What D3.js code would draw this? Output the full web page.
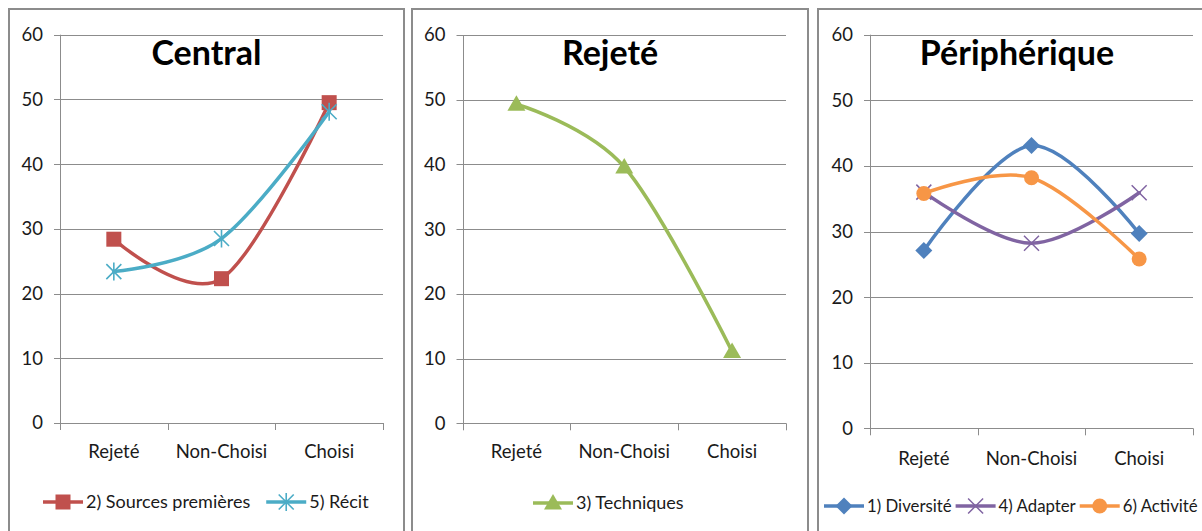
<!DOCTYPE html>
<html><head><meta charset="utf-8">
<script src="https://cdn.jsdelivr.net/npm/d3@7"></script>
<style>
html,body{margin:0;padding:0;background:#fff;overflow:hidden;}
svg{display:block;font-family:Lato,"Open Sans",sans-serif;}
</style></head>
<body><svg id="chart" width="1202" height="531"></svg>
<script>
// ---- data ----
const categories = ["Rejeté", "Non-Choisi", "Choisi"];
const yTicks = [0, 10, 20, 30, 40, 50, 60];
const titles = ["Central", "Rejeté", "Périphérique"];
const sourcesPremieres = [28.4, 22.3, 49.5];
const recit = [23.4, 28.5, 48.1];
const techniques = [49.3, 39.6, 11.1];
const diversite = [27.1, 43.1, 29.7];
const adapter = [36.0, 28.2, 35.9];
const activite = [35.8, 38.2, 25.8];

const seriesNames = {
  sources: "2) Sources premières", recit: "5) Récit", techniques: "3) Techniques",
  diversite: "1) Diversité", adapter: "4) Adapter", activite: "6) Activité"
};

// ---- layout / style ----
const panels = [
  { title: titles[0], bx0: 9, bx1: 404, left: 60, right: 383, top: 34.7, bottom: 423, xl: 452, ly: 502, lx: 43, lgap: 16, lfs: 18, tx: 206.5,
    series: [
      { name: seriesNames.sources, values: sourcesPremieres, color: "#C0504D", marker: "square" },
      { name: seriesNames.recit, values: recit, color: "#4BACC6", marker: "star" }
    ] },
  { title: titles[1], bx0: 412, bx1: 808, left: 462.5, right: 786, top: 35, bottom: 423.3, xl: 452, ly: 503, lx: 533, lgap: 16, lfs: 18, tx: 610,
    series: [
      { name: seriesNames.techniques, values: techniques, color: "#9BBB59", marker: "triangle" }
    ] },
  { title: titles[2], bx0: 818, bx1: 1217, left: 870, right: 1193, top: 34.7, bottom: 428.3, xl: 459, ly: 506, lx: 824, lgap: 4, lfs: 16.8, tx: 1017,
    series: [
      { name: seriesNames.diversite, values: diversite, color: "#4F81BD", marker: "diamond" },
      { name: seriesNames.adapter, values: adapter, color: "#8064A2", marker: "x" },
      { name: seriesNames.activite, values: activite, color: "#F79646", marker: "circle" }
    ] }
];

const gridColor = "#8c8c8c";
const textColor = "#1a1a1a";
const svg = d3.select("#chart");

function drawMarker(g, type, x, y, color) {
  const s = 7.5;
  if (type === "square") {
    g.append("rect").attr("x", x - s).attr("y", y - s).attr("width", 2 * s).attr("height", 2 * s).attr("fill", color);
  } else if (type === "triangle") {
    g.append("path").attr("d", `M${x},${y - 9}L${x + 9},${y + 6.5}L${x - 9},${y + 6.5}Z`).attr("fill", color);
  } else if (type === "diamond") {
    g.append("path").attr("d", `M${x},${y - 8.5}L${x + 8.5},${y}L${x},${y + 8.5}L${x - 8.5},${y}Z`).attr("fill", color);
  } else if (type === "circle") {
    g.append("circle").attr("cx", x).attr("cy", y).attr("r", 7.5).attr("fill", color);
  } else if (type === "x") {
    g.append("path").attr("d", `M${x - 7.5},${y - 7.5}L${x + 7.5},${y + 7.5}M${x - 7.5},${y + 7.5}L${x + 7.5},${y - 7.5}`)
      .attr("stroke", color).attr("stroke-width", 1.5).attr("fill", "none");
  } else if (type === "star") {
    g.append("path").attr("d", `M${x - 7.5},${y - 7.5}L${x + 7.5},${y + 7.5}M${x - 7.5},${y + 7.5}L${x + 7.5},${y - 7.5}M${x},${y - 9}L${x},${y + 9}`)
      .attr("stroke", color).attr("stroke-width", 1.6).attr("fill", "none");
  }
}

panels.forEach(p => {
  const g = svg.append("g");
  // border
  g.append("rect").attr("x", p.bx0).attr("y", 9).attr("width", p.bx1 - p.bx0).attr("height", 560)
    .attr("fill", "#fff").attr("stroke", gridColor).attr("stroke-width", 2);

  const x = d3.scaleBand().domain(categories).range([p.left, p.right]).padding(0);
  const y = d3.scaleLinear().domain([0, 60]).range([p.bottom, p.top]);

  // gridlines + y ticks
  g.append("g").selectAll("line").data(yTicks).join("line")
    .attr("x1", p.left - 6).attr("x2", p.right)
    .attr("y1", d => Math.round(y(d)) + 0.5).attr("y2", d => Math.round(y(d)) + 0.5)
    .attr("stroke", gridColor).attr("stroke-width", 1);
  g.append("g").selectAll("text").data(yTicks).join("text")
    .attr("x", p.left - 17).attr("y", d => y(d)).attr("dy", "0.35em")
    .attr("text-anchor", "end").attr("font-size", 18.5).attr("fill", textColor).text(d => d);

  // y axis line
  g.append("line").attr("x1", Math.round(p.left) + 0.5).attr("x2", Math.round(p.left) + 0.5)
    .attr("y1", y(60)).attr("y2", y(0)).attr("stroke", gridColor);

  // x ticks at band boundaries
  const bounds = categories.map(c => x(c)).concat([p.right]);
  g.append("g").selectAll("line").data(bounds).join("line")
    .attr("x1", d => Math.round(d) + 0.5).attr("x2", d => Math.round(d) + 0.5)
    .attr("y1", y(0)).attr("y2", y(0) + 7).attr("stroke", gridColor);
  g.append("g").selectAll("text").data(categories).join("text")
    .attr("x", d => x(d) + x.bandwidth() / 2).attr("y", p.xl).attr("dy", "0.35em")
    .attr("text-anchor", "middle").attr("font-size", 18.5).attr("fill", textColor).text(d => d);

  // title
  g.append("text").attr("x", p.tx).attr("y", 65).attr("text-anchor", "middle")
    .attr("font-size", 34).attr("font-weight", "bold").attr("fill", "#000").text(p.title);

  // series
  const line = d3.line().x((d, i) => x(categories[i]) + x.bandwidth() / 2).y(d => y(d))
    .curve(d3.curveCatmullRom.alpha(0));
  p.series.forEach(s => {
    const sg = g.append("g");
    sg.append("path").datum(s.values).attr("d", line).attr("fill", "none")
      .attr("stroke", s.color).attr("stroke-width", 3.5).attr("stroke-linecap", "round");
    s.values.forEach((v, i) => drawMarker(sg, s.marker, x(categories[i]) + x.bandwidth() / 2, y(v), s.color));
  });

  // legend
  let lx = p.lx;
  p.series.forEach(s => {
    const lg = g.append("g");
    lg.append("line").attr("x1", lx).attr("x2", lx + 40).attr("y1", p.ly).attr("y2", p.ly)
      .attr("stroke", s.color).attr("stroke-width", 3.5);
    drawMarker(lg, s.marker, lx + 20, p.ly, s.color);
    const t = lg.append("text").attr("x", lx + 43).attr("y", p.ly).attr("dy", "0.35em")
      .attr("font-size", p.lfs).attr("fill", textColor).text(s.name);
    lx = lx + 43 + t.node().getComputedTextLength() + p.lgap;
  });
});
</script></body></html>
